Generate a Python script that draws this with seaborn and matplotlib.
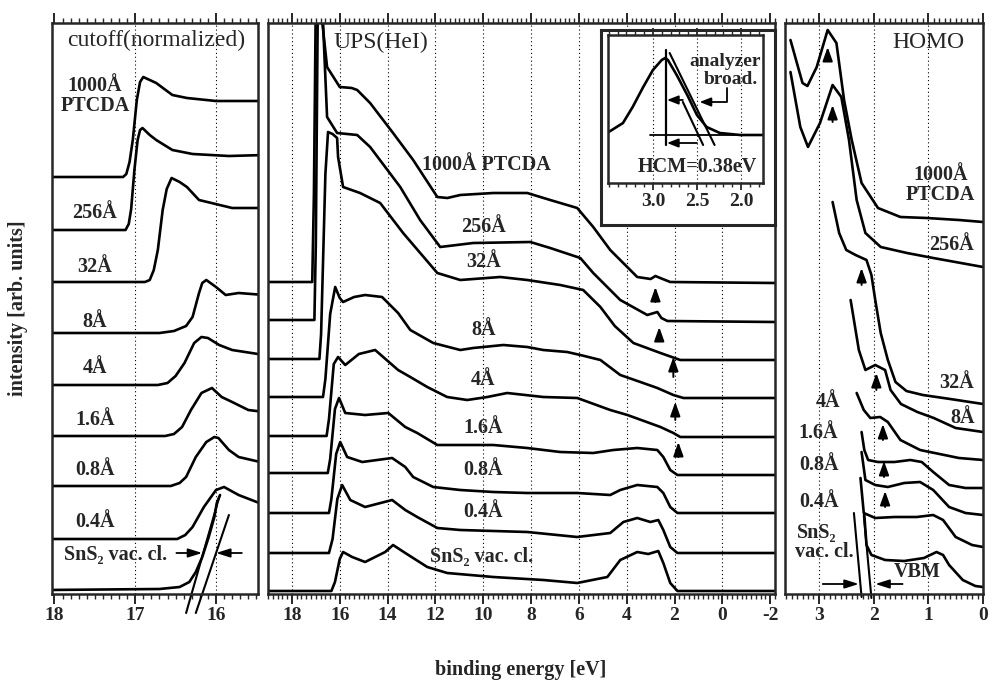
import pandas as pd
import matplotlib
matplotlib.use("Agg")
import matplotlib.pyplot as plt
import seaborn as sns
from matplotlib.ticker import MultipleLocator, FixedLocator, FormatStrFormatter

# ---------------- data: (binding energy [eV], intensity [arb. units]) ----------------
labels = ["1000Å", "256Å", "32Å", "8Å", "4Å", "1.6Å", "0.8Å", "0.4Å", "SnS₂"]

# cutoff (normalized)
cut_1000 = [(18.1, 417), (17.15, 417), (17.11, 420), (17.07, 432), (17.03, 454), (16.98, 494), (16.94, 512),
            (16.90, 517), (16.82, 514), (16.74, 511), (16.54, 499), (16.36, 496), (16.0, 493), (15.4, 493)]
cut_256 = [(18.1, 364), (17.12, 364), (17.08, 370), (17.05, 385), (17.01, 424), (16.97, 454), (16.94, 464),
           (16.91, 466), (16.82, 459), (16.74, 454), (16.54, 444), (16.29, 440), (15.84, 438), (15.4, 439)]
cut_32 = [(18.1, 312), (16.88, 312), (16.82, 314), (16.77, 324), (16.72, 344), (16.66, 384), (16.61, 405),
          (16.55, 416), (16.45, 412), (16.36, 407), (16.21, 394), (15.80, 386), (15.4, 386)]
cut_8 = [(18.1, 261), (16.70, 261), (16.52, 263), (16.37, 268), (16.29, 277), (16.21, 301), (16.17, 311),
         (16.12, 314), (16.0, 307), (15.88, 299), (15.72, 301), (15.4, 299)]
cut_4 = [(18.1, 209), (16.72, 209), (16.60, 211), (16.50, 218), (16.39, 231), (16.27, 251), (16.18, 257),
         (16.10, 256), (15.96, 249), (15.80, 244), (15.4, 239)]
cut_16 = [(18.1, 158), (16.63, 158), (16.52, 160), (16.42, 167), (16.31, 184), (16.18, 201), (16.05, 206),
          (15.93, 197), (15.80, 192), (15.60, 184), (15.4, 182)]
cut_08 = [(18.1, 108), (16.56, 108), (16.45, 111), (16.37, 117), (16.25, 137), (16.12, 152), (16.02, 157),
          (15.97, 156), (15.84, 144), (15.72, 137), (15.4, 131)]
cut_04 = [(18.1, 55), (16.48, 55), (16.38, 59), (16.29, 67), (16.15, 87), (16.0, 104), (15.90, 107),
          (15.72, 99), (15.4, 89)]
cut_sns2 = [(18.1, 4), (16.70, 5), (16.45, 7), (16.33, 12), (16.25, 22), (16.17, 37), (16.09, 57), (16.02, 77),
            (15.99, 91), (15.95, 99)]
cut_tangent1 = [(16.37, -19), (15.96, 97)]
cut_tangent2 = [(16.25, -19), (15.84, 79)]

# UPS (HeI)
ups_1000 = [(19.2, 312), (17.15, 312), (17.08, 400), (16.95, 720), (16.74, 574), (16.53, 527), (16.0, 507),
            (15.5, 506), (15.27, 504), (14.73, 491), (13.77, 461), (12.93, 434), (11.92, 397), (11.5, 396),
            (10.96, 399), (9.58, 401), (8.16, 401), (7.20, 394), (6.07, 386), (5.40, 367), (4.69, 344),
            (3.56, 317), (3.0, 315), (2.80, 318), (2.6, 316), (2.18, 312), (-2.2, 311)]
ups_256 = [(19.2, 274), (17.06, 274), (17.0, 350), (16.88, 700), (16.70, 572), (16.53, 477), (16.11, 461),
           (15.27, 459), (14.73, 447), (13.47, 407), (12.64, 374), (11.80, 347), (10.42, 351), (8.03, 352),
           (7.20, 346), (5.94, 336), (5.40, 321), (4.27, 294), (3.14, 279), (2.72, 282), (2.55, 276),
           (2.3, 273), (-2.2, 272)]
ups_32 = [(19.2, 235), (16.85, 235), (16.78, 260), (16.6, 420), (16.49, 462), (16.3, 460), (16.11, 456),
          (16.07, 437), (15.86, 407), (15.15, 401), (14.31, 391), (13.35, 361), (11.92, 321), (10.96, 314),
          (9.29, 317), (8.16, 314), (6.78, 309), (5.82, 304), (5.10, 287), (4.5, 268), (3.72, 251),
          (2.59, 241), (1.76, 234), (-2.2, 234)]
ups_8 = [(19.2, 197), (16.7, 197), (16.6, 215), (16.4, 280), (16.19, 307), (16.0, 296), (15.86, 292),
         (15.4, 297), (14.94, 299), (14.23, 297), (13.56, 281), (13.05, 264), (12.09, 251), (10.96, 244),
         (10.42, 246), (9.16, 249), (8.16, 247), (7.49, 244), (6.49, 242), (5.94, 239), (5.10, 234),
         (4.27, 219), (3.43, 212), (2.72, 206), (2.05, 199), (1.63, 196), (-2.2, 196)]
ups_4 = [(19.2, 158), (16.55, 158), (16.45, 175), (16.25, 230), (16.07, 237), (15.77, 229), (15.2, 240),
         (14.52, 244), (13.56, 224), (13.05, 217), (12.34, 207), (11.51, 197), (10.67, 194), (9.83, 197),
         (9.00, 201), (7.49, 197), (6.07, 196), (4.69, 184), (3.97, 179), (2.59, 167), (2.05, 161),
         (1.76, 157), (-2.2, 157)]
ups_16 = [(19.2, 121), (16.5, 121), (16.4, 135), (16.2, 185), (16.03, 196), (15.77, 181), (14.94, 179),
          (13.97, 181), (13.26, 167), (12.76, 161), (11.92, 149), (10.96, 149), (9.58, 149), (8.16, 146),
          (6.78, 142), (5.40, 141), (4.56, 144), (3.56, 146), (2.72, 144), (2.47, 137), (2.18, 124),
          (1.88, 119), (-2.2, 119)]
ups_08 = [(19.2, 81), (16.45, 81), (16.35, 95), (16.15, 140), (15.98, 152), (15.69, 137), (15.06, 132),
          (13.81, 136), (13.26, 127), (12.93, 117), (12.09, 107), (10.96, 104), (9.58, 102), (8.16, 101),
          (6.07, 101), (4.69, 99), (4.27, 104), (3.56, 109), (2.72, 107), (2.47, 101), (2.18, 87),
          (1.88, 81), (-2.2, 81)]
ups_04 = [(19.2, 41), (16.45, 41), (16.3, 55), (16.1, 95), (15.90, 109), (15.56, 94), (14.94, 87),
          (13.81, 94), (13.26, 84), (12.76, 77), (11.92, 66), (10.96, 64), (8.16, 62), (6.07, 57),
          (4.69, 61), (4.14, 72), (3.56, 76), (3.01, 72), (2.68, 74), (2.47, 64), (2.18, 47), (1.88, 41),
          (-2.2, 41)]
ups_sns2 = [(19.2, 3), (16.35, 3), (16.2, 12), (16.0, 35), (15.86, 42), (15.48, 37), (14.94, 32),
            (14.1, 42), (13.77, 49), (13.26, 41), (12.34, 27), (11.51, 21), (9.58, 17), (7.49, 14),
            (6.07, 11), (4.81, 17), (4.27, 34), (3.56, 42), (3.10, 40), (2.68, 43), (2.47, 31), (2.18, 11),
            (1.88, 3), (-2.2, 3)]

# inset: HCM of the SnS2 valence band edge
inset_peak = [(3.52, 50), (3.34, 60), (3.23, 76), (3.11, 96), (3.0, 113), (2.90, 123), (2.86, 125),
              (2.83, 123), (2.73, 108), (2.61, 88), (2.50, 68), (2.39, 56), (2.24, 50), (2.01, 48), (1.7, 48)]
inset_base = [(3.03, 48), (1.7, 48)]
inset_vline = [(2.85, 133), (2.85, 38)]
inset_outer = [(2.81, 130), (2.30, 38)]
inset_inner = [(2.66, 81), (2.43, 38)]
inset_ticks = [3.0, 2.5, 2.0]

# HOMO region
homo_1000 = [(3.52, 554), (3.30, 511), (3.21, 508), (3.04, 527), (2.84, 564), (2.68, 551), (2.54, 494),
             (2.40, 454), (2.22, 411), (1.92, 386), (1.51, 377), (1.03, 376), (0.44, 374), (0.0, 372)]
homo_256 = [(3.52, 522), (3.34, 467), (3.20, 447), (2.98, 471), (2.75, 509), (2.59, 497), (2.45, 454),
            (2.31, 394), (2.15, 361), (1.87, 347), (1.39, 341), (0.91, 336), (0.0, 327)]
homo_32 = [(2.75, 392), (2.63, 361), (2.50, 344), (2.33, 339), (2.13, 334), (2.04, 319), (1.97, 294),
           (1.87, 261), (1.74, 234), (1.6, 212), (1.4, 203), (1.1, 199), (0.6, 195), (0.0, 190)]
homo_8 = [(2.42, 294), (2.27, 244), (2.15, 224), (1.97, 229), (1.79, 224), (1.69, 204), (1.5, 190),
          (1.2, 182), (0.9, 176), (0.5, 166), (0.0, 162)]
homo_4 = [(2.31, 201), (2.18, 184), (2.06, 176), (1.88, 177), (1.74, 172), (1.51, 154), (1.15, 144),
          (0.44, 136), (0.0, 134)]
homo_16 = [(2.22, 162), (2.17, 144), (2.10, 134), (1.92, 132), (1.62, 132), (1.33, 134), (1.12, 132),
           (0.91, 122), (0.62, 109), (0.32, 106), (0.0, 106)]
homo_08 = [(2.22, 142), (2.15, 114), (1.97, 109), (1.74, 107), (1.44, 111), (1.15, 112), (0.91, 104),
           (0.62, 87), (0.32, 81), (0.0, 79)]
homo_04 = [(2.24, 116), (2.18, 81), (1.97, 76), (1.62, 77), (1.21, 77), (0.91, 79), (0.73, 74), (0.50, 57),
           (0.20, 49), (0.0, 47)]
homo_sns2 = [(2.17, 79), (2.13, 49), (2.04, 39), (1.79, 34), (1.44, 33), (1.08, 36), (0.85, 42), (0.73, 39),
             (0.62, 29), (0.37, 14), (0.14, 8), (0.0, 7)]
homo_tangent1 = [(2.36, 81), (2.22, -3)]
homo_tangent2 = [(2.18, 79), (2.04, -4)]

# feature markers (energy, arrow tip, arrow tail)
ups_marks = [(2.80, 307, 292), (2.64, 267, 254), (2.05, 237, 217), (1.97, 192, 174), (1.84, 152, 137)]
homo_marks = [(2.84, 547, 534), (2.75, 489, 472), (2.22, 326, 309), (1.95, 221, 204), (1.83, 170, 154),
              (1.81, 133, 117), (1.79, 103, 87)]

# ---------------- figure ----------------
sns.set_theme(style="ticks")
plt.rcParams["font.family"] = ["Liberation Serif", "DejaVu Serif"]
plt.rcParams["axes.unicode_minus"] = False

fig = plt.figure(figsize=(9.9, 6.81), dpi=100)
bottom, height = 87 / 681, 571 / 681
ax1 = fig.add_axes([52 / 990, bottom, 206 / 990, height])
ax2 = fig.add_axes([268 / 990, bottom, 507 / 990, height])
ax3 = fig.add_axes([785 / 990, bottom, 198 / 990, height])


def draw(ax, pts, lw=1.9, clip=True):
    df = pd.DataFrame(pts, columns=["E", "I"])
    n0 = len(ax.lines)
    sns.lineplot(data=df, x="E", y="I", ax=ax, sort=False, estimator=None, color="black", lw=lw)
    for ln in ax.lines[n0:]:
        ln.set_clip_on(clip)
        ln.set_solid_joinstyle("round")


def style(ax, xlim, major, minor, grid):
    ax.set_xlim(*xlim)
    ax.set_ylim(0, 571)
    ax.set_xlabel("")
    ax.set_ylabel("")
    ax.set_yticks([])
    ax.xaxis.set_major_locator(MultipleLocator(major))
    ax.xaxis.set_minor_locator(MultipleLocator(minor))
    ax.tick_params(axis="x", which="both", direction="out", top=True, bottom=True, labelsize=14, pad=2)
    ax.tick_params(axis="x", which="major", length=7, width=1.4)
    ax.tick_params(axis="x", which="minor", length=3.5, width=1.0)
    for lab in ax.get_xticklabels():
        lab.set_fontweight("bold")
    for s in ax.spines.values():
        s.set_linewidth(1.8)
    for g in grid:
        ax.axvline(g, color="black", lw=0.8, ls=(0, (1, 2.5)), zorder=0)


def up_arrow(ax, e, tip, tail):
    ax.annotate("", xy=(e, tip), xytext=(e, tail),
                arrowprops=dict(arrowstyle="-|>,head_length=0.7,head_width=0.25", color="black", lw=1.4,
                                shrinkA=0, shrinkB=0))


def h_arrow(ax, tail, tip, y, scale=1.0):
    ax.annotate("", xy=(tip, y), xytext=(tail, y),
                arrowprops=dict(arrowstyle="-|>,head_length=%.2f,head_width=0.22" % (0.7 * scale),
                                color="black", lw=1.3, shrinkA=0, shrinkB=0))


lab_kw = dict(ha="center", va="center", fontsize=14.5, fontweight="bold")

# ---- panel 1: cutoff ----
for c in [cut_1000, cut_256, cut_32, cut_8, cut_4, cut_16, cut_08, cut_04, cut_sns2]:
    draw(ax1, c)
draw(ax1, cut_tangent1, lw=1.5, clip=False)
draw(ax1, cut_tangent2, lw=1.5, clip=False)
style(ax1, (18.03, 15.48), 1, 0.1, [17, 16])
ax1.text(16.74, 554, "cutoff(normalized)", ha="center", va="center", fontsize=17)
ax1.text(17.50, 498, "1000Å\nPTCDA", linespacing=1.0, **lab_kw)
cut_text_y = [381, 327, 272, 226, 174, 124, 72]
for lab, y in zip(labels[1:8], cut_text_y):
    ax1.text(17.50, y, lab, **lab_kw)
ax1.text(17.24, 39, "SnS₂ vac. cl.", **lab_kw)
h_arrow(ax1, 16.49, 16.17, 41)
h_arrow(ax1, 15.68, 16.0, 41)

# ---- panel 2: UPS(HeI) ----
for c in [ups_1000, ups_256, ups_32, ups_8, ups_4, ups_16, ups_08, ups_04, ups_sns2]:
    draw(ax2, c)
style(ax2, (19.0, -2.2), 2, 0.2, [18, 16, 14, 12, 10, 8, 6, 4, 2, 0])
ax2.text(16.28, 552, "UPS(HeI)", ha="left", va="center", fontsize=17)
ax2.text(9.85, 429, "1000Å PTCDA", **lab_kw)
ups_text_y = [367, 332, 264, 214, 166, 124, 82]
for lab, y in zip(labels[1:8], ups_text_y):
    ax2.text(10.0, y, lab, **lab_kw)
ax2.text(10.05, 37, "SnS₂ vac. cl.", **lab_kw)
for e, tip, tail in ups_marks:
    up_arrow(ax2, e, tip, tail)

# inset frame + inset
frame = fig.add_axes([601 / 990, 1 - 225 / 681, 174 / 990, 195 / 681])
frame.set_xticks([])
frame.set_yticks([])
for s in frame.spines.values():
    s.set_linewidth(2.2)
ins = fig.add_axes([608 / 990, 1 - 183 / 681, 155 / 990, 148 / 681])
draw(ins, inset_peak, lw=1.9)
draw(ins, inset_base, lw=1.3)
draw(ins, inset_vline, lw=1.6)
draw(ins, inset_outer, lw=1.5)
draw(ins, inset_inner, lw=1.5)
ins.set_xlim(3.51, 1.75)
ins.set_ylim(0, 148)
ins.set_xlabel("")
ins.set_ylabel("")
ins.set_yticks([])
ins.xaxis.set_major_locator(FixedLocator(inset_ticks))
ins.xaxis.set_minor_locator(MultipleLocator(0.1))
ins.xaxis.set_major_formatter(FormatStrFormatter("%.1f"))
ins.tick_params(axis="x", which="both", direction="out", top=True, bottom=True, labelsize=14, pad=2)
ins.tick_params(axis="x", which="major", length=5, width=1.3)
ins.tick_params(axis="x", which="minor", length=3, width=1.0)
for lab in ins.get_xticklabels():
    lab.set_fontweight("bold")
for s in ins.spines.values():
    s.set_linewidth(1.8)
for g in inset_ticks:
    ins.axvline(g, color="black", lw=0.8, ls=(0, (1, 2.5)), zorder=0)
ins.text(2.18, 121, "analyzer", ha="center", va="center", fontsize=14, fontweight="bold")
ins.text(2.12, 103, "broad.", ha="center", va="center", fontsize=14, fontweight="bold")
ins.text(2.50, 16, "HCM=0.38eV", ha="center", va="center", fontsize=14.5, fontweight="bold")
ins.plot([2.16, 2.16, 2.40], [95, 81, 81], color="black", lw=1.3)
h_arrow(ins, 2.40, 2.47, 81, scale=0.8)
h_arrow(ins, 2.66, 2.84, 83, scale=0.8)
h_arrow(ins, 2.50, 2.84, 40, scale=0.8)

# ---- panel 3: HOMO ----
for c in [homo_1000, homo_256, homo_32, homo_8, homo_4, homo_16, homo_08, homo_04, homo_sns2]:
    draw(ax3, c)
draw(ax3, homo_tangent1, lw=1.5, clip=False)
draw(ax3, homo_tangent2, lw=1.5, clip=False)
style(ax3, (3.62, 0.0), 1, 0.1, [3, 2, 1, 0])
ax3.text(0.99, 551, "HOMO", ha="center", va="center", fontsize=17)
ax3.text(0.78, 409, "1000Å\nPTCDA", linespacing=1.0, **lab_kw)
ax3.text(0.57, 349, "256Å", **lab_kw)
ax3.text(0.48, 211, "32Å", **lab_kw)
ax3.text(0.37, 176, "8Å", **lab_kw)
homo_text = [(2.84, 192), (3.02, 161), (3.00, 129), (3.00, 92)]
for lab, (e, y) in zip(labels[4:8], homo_text):
    ax3.text(e, y, lab, **lab_kw)
ax3.text(3.04, 61, "SnS₂", **lab_kw)
ax3.text(2.91, 42, "vac. cl.", **lab_kw)
ax3.text(1.21, 22, "VBM", **lab_kw)
h_arrow(ax3, 2.93, 2.27, 10)
h_arrow(ax3, 1.47, 1.97, 10)
for e, tip, tail in homo_marks:
    up_arrow(ax3, e, tip, tail)

fig.text(18 / 990, 1 - 308 / 681, "intensity [arb. units]", rotation=90, ha="center", va="center",
         fontsize=14.5, fontweight="bold")
fig.text(521 / 990, 1 - 670 / 681, "binding energy [eV]", ha="center", va="center",
         fontsize=14.5, fontweight="bold")

fig.savefig("out.png", dpi=100)
